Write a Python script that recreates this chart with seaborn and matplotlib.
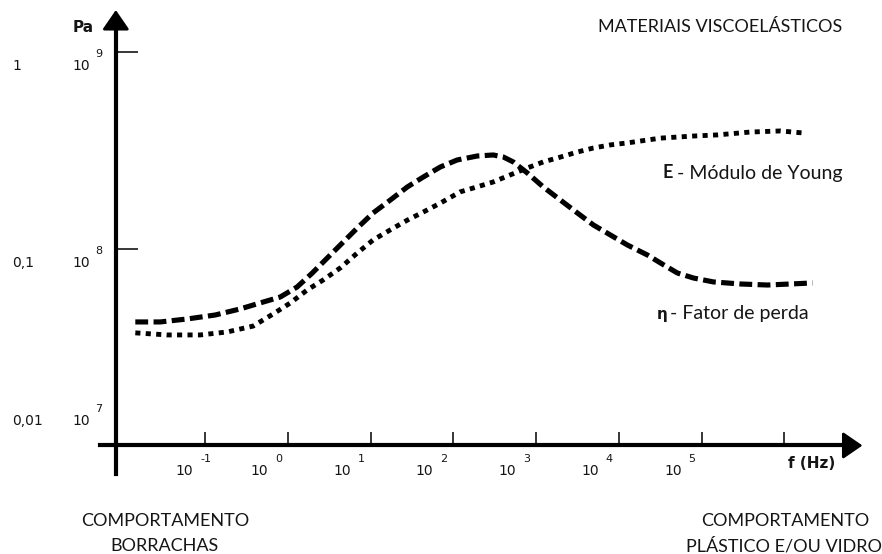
import matplotlib
matplotlib.use("Agg")
import matplotlib.pyplot as plt
import seaborn as sns

# Young's modulus E (Pa) of a viscoelastic material versus frequency (Hz)
freq_E_hz = [0.0143, 0.0347, 0.0871, 0.185, 0.380, 0.664, 1.07, 1.71, 2.67, 4.29,
             6.89, 10.7, 17.3, 27.7, 43.3, 69.5, 121, 195, 303, 488, 783, 1220,
             1960, 3150, 4920, 7890, 12700, 31800, 79600, 155000, 389000, 897000,
             1660000]
young_modulus_pa = [3.74e7, 3.65e7, 3.65e7, 3.78e7, 4.05e7, 4.67e7, 5.31e7, 6.18e7,
                    6.95e7, 8.00e7, 9.53e7, 1.11e8, 1.25e8, 1.40e8, 1.54e8, 1.71e8,
                    1.95e8, 2.07e8, 2.19e8, 2.38e8, 2.58e8, 2.77e8, 2.93e8, 3.11e8,
                    3.26e8, 3.38e8, 3.46e8, 3.66e8, 3.75e8, 3.80e8, 3.93e8, 3.98e8,
                    3.89e8]

# Loss factor eta versus frequency (Hz)
freq_eta_hz = [0.0143, 0.0286, 0.0605, 0.132, 0.265, 0.462, 0.807, 1.29, 1.97, 2.99,
               4.29, 6.89, 10.7, 17.3, 27.7, 43.3, 69.5, 111, 195, 303, 401, 530,
               783, 1220, 1960, 3150, 4920, 7890, 12700, 22100, 31800, 50900, 79600,
               139000, 294000, 625000, 1190000, 2190000]
loss_factor = [0.0425, 0.0425, 0.0440, 0.0461, 0.0495, 0.0531, 0.0569, 0.0640, 0.0754,
               0.0899, 0.1046, 0.1277, 0.1523, 0.1773, 0.2065, 0.2321, 0.2610, 0.2833,
               0.2969, 0.3004, 0.2934, 0.2767, 0.2432, 0.2065, 0.1773, 0.1523, 0.1323,
               0.1177, 0.1046, 0.0931, 0.0848, 0.0754, 0.0711, 0.0679, 0.0663, 0.0655,
               0.0663, 0.0671]

# Axis decorations
freq_label_exponents = [-1, 0, 1, 2, 3, 4, 5]
freq_tick_exponents = [-1, 0, 1, 2, 3, 4, 5, 6]
modulus_label_exponents = [9, 8, 7]
loss_labels = ["1", "0,1", "0,01"]

W, H = 882, 554
INK = "#151515"

sns.set_style("white")
plt.rcParams["font.family"] = ["Lato", "DejaVu Sans"]

fig = plt.figure(figsize=(W / 100, H / 100), dpi=100)
ax = fig.add_axes([0, 0, 1, 1])
ax.set_xscale("log")
ax.set_yscale("log")
ax2 = ax.twinx()
ax2.set_yscale("log")

sns.lineplot(x=freq_E_hz, y=young_modulus_pa, ax=ax, color="black",
             linewidth=3.5, linestyle=(0, (1.05, 1.1)), sort=False, zorder=3)
sns.lineplot(x=freq_eta_hz, y=loss_factor, ax=ax2, color="black",
             linewidth=3.7, linestyle=(0, (2.5, 1.05)), sort=False, zorder=3)

XLIM = (10 ** -3.48, 10 ** 7.18)
YLIM = (10 ** 6.448, 10 ** 9.266)
ax.set_xlim(*XLIM)
ax.set_ylim(*YLIM)
# loss factor 1 sits level with 10^9 Pa
ax2.set_ylim(YLIM[0] / 1e9, YLIM[1] / 1e9)
ax2.set_axis_off()

axis_x = 10 ** -2.08
axis_y = 1e7
ax.spines["left"].set_position(("data", axis_x))
ax.spines["bottom"].set_position(("data", axis_y))
ax.spines["left"].set_bounds(10 ** 6.855, 10 ** 9.15)
ax.spines["bottom"].set_bounds(10 ** -2.27, 10 ** 6.78)
for side in ("left", "bottom"):
    ax.spines[side].set_linewidth(3.0)
    ax.spines[side].set_color("black")
for side in ("right", "top"):
    ax.spines[side].set_visible(False)

ax.set_xticks([10.0 ** e for e in freq_tick_exponents])
ax.set_yticks([1e8, 1e9])
ax.minorticks_off()
ax.tick_params(axis="x", which="major", direction="in", length=9.5, width=1.1,
               color="black", bottom=True, labelbottom=False)
ax.tick_params(axis="y", which="major", direction="in", length=16, width=1.1,
               color="black", left=True, labelleft=False)
ax.set_xlabel("")
ax.set_ylabel("")

# arrow heads
head = dict(arrowstyle="-|>,head_length=0.8,head_width=0.55", mutation_scale=15,
            lw=2.0, color="black", shrinkA=0, shrinkB=0)
ax.annotate("", xy=(axis_x, 10 ** 9.215), xytext=(axis_x, 10 ** 9.10), arrowprops=head)
ax.annotate("", xy=(10 ** 6.944, axis_y), xytext=(10 ** 6.70, axis_y), arrowprops=head)

num_font = dict(family="DejaVu Sans", color=INK)

# frequency tick labels: "10" with a raised exponent
for e in freq_label_exponents:
    shift = 8 if e < 0 else 0
    ax.annotate("10", xy=(10.0 ** e, axis_y), xycoords="data",
                xytext=(-20 + shift, -26), textcoords="offset pixels",
                ha="right", va="center", fontsize=10, **num_font)
    ax.annotate(str(e), xy=(10.0 ** e, axis_y), xycoords="data",
                xytext=(-13 + shift, -14), textcoords="offset pixels",
                ha="left", va="center", fontsize=8, **num_font)

# modulus labels (Pa) and loss factor labels
for e, lf in zip(modulus_label_exponents, loss_labels):
    dy = 24 if e == 7 else -14
    ax.annotate("10", xy=(axis_x, 10.0 ** e), xycoords="data",
                xytext=(-26, dy), textcoords="offset pixels",
                ha="right", va="center", fontsize=10, **num_font)
    ax.annotate(str(e), xy=(axis_x, 10.0 ** e), xycoords="data",
                xytext=(-21, dy + 12), textcoords="offset pixels",
                ha="left", va="center", fontsize=8, **num_font)
    ax.annotate(lf, xy=(0, 10.0 ** e), xycoords=("figure pixels", "data"),
                xytext=(12, dy), textcoords="offset pixels",
                ha="left", va="center", fontsize=10, **num_font)


def fxy(px, py):
    return px / W, 1 - py / H


fig.text(*fxy(83, 27), "Pa", ha="center", va="center", fontsize=11,
         fontweight="bold", family="DejaVu Sans", color=INK)
fig.text(*fxy(812, 463), "f (Hz)", ha="center", va="center", fontsize=11,
         fontweight="bold", family="DejaVu Sans", color=INK)

fig.text(*fxy(720, 27), "MATERIAIS VISCOELÁSTICOS", ha="center", va="center",
         fontsize=13, color=INK)

fig.text(*fxy(662, 173), "E", ha="left", va="center", fontsize=13,
         fontweight="bold", color=INK)
fig.text(*fxy(677, 173), "- Módulo de Young", ha="left", va="center",
         fontsize=14, color=INK)
fig.text(*fxy(657, 314), "η", ha="left", va="center", fontsize=11,
         fontweight="bold", family="DejaVu Sans", color=INK)
fig.text(*fxy(670, 314), "- Fator de perda", ha="left", va="center",
         fontsize=14, color=INK)

fig.text(*fxy(165, 521), "COMPORTAMENTO", ha="center", va="center",
         fontsize=13, color=INK)
fig.text(*fxy(165, 546), "BORRACHAS", ha="center", va="center",
         fontsize=13, color=INK)
fig.text(*fxy(785, 521), "COMPORTAMENTO", ha="center", va="center",
         fontsize=13, color=INK)
fig.text(*fxy(784, 546), "PLÁSTICO E/OU VIDRO", ha="center", va="center",
         fontsize=13, color=INK)

fig.savefig("out.png", dpi=100, facecolor="white")
